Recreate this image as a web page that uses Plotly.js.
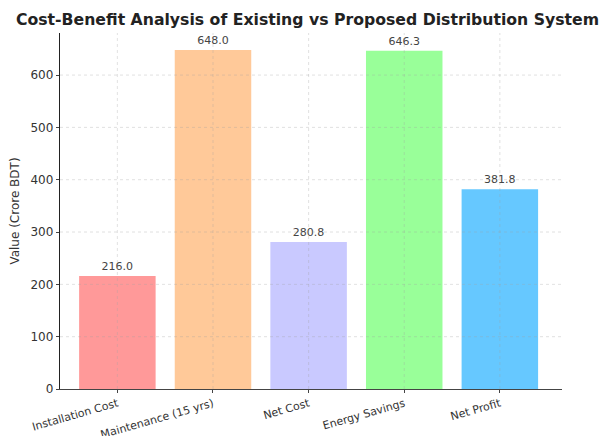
<!DOCTYPE html>
<html>
<head>
<meta charset="utf-8">
<script src="https://cdn.plot.ly/plotly-3.0.1.min.js"></script>
<style>html,body{margin:0;padding:0;background:#fff;}#chart{width:603px;height:436px;}</style>
</head>
<body>
<div id="chart"></div>
<script>
const categories = ["Installation Cost", "Maintenance (15 yrs)", "Net Cost", "Energy Savings", "Net Profit"];
const values = [216.0, 648.0, 280.8, 646.3, 381.8];
const barColors = ["#ff9999", "#ffc999", "#c9c9ff", "#99ff99", "#66c8ff"];
const yTicks = [0, 100, 200, 300, 400, 500, 600];

const idx = categories.map((c, i) => i);
const font = "DejaVu Sans, sans-serif";

const trace = {
  type: "bar",
  x: idx,
  y: values,
  width: 0.8,
  marker: {color: barColors, line: {width: 0}},
  text: values.map(v => v.toFixed(1)),
  textposition: "outside",
  textfont: {family: font, size: 11, color: "#444"},
  cliponaxis: false,
  hoverinfo: "skip"
};

const gridShapes = [];
idx.forEach(i => gridShapes.push({type: "line", xref: "x", yref: "paper", x0: i, x1: i, y0: 0, y1: 1, layer: "above",
  line: {color: "rgba(160,160,160,0.4)", width: 0.8, dash: "dot"}}));
yTicks.slice(1).forEach(t => gridShapes.push({type: "line", xref: "paper", yref: "y", x0: 0, x1: 1, y0: t, y1: t, layer: "above",
  line: {color: "rgba(160,160,160,0.4)", width: 0.8, dash: "dot"}}));

const layout = {
  width: 603, height: 436,
  margin: {l: 60, r: 41, t: 33, b: 47},
  paper_bgcolor: "#fff", plot_bgcolor: "#fff",
  title: {text: "<b>Cost-Benefit Analysis of Existing vs Proposed Distribution System</b>",
    font: {family: font, size: 15.7, color: "#222"}, x: 0.51, xanchor: "center", y: 0.955, yanchor: "middle"},
  showlegend: false,
  bargap: 0.2,
  xaxis: {
    range: [-0.6, 4.65],
    tickmode: "array", tickvals: idx, ticktext: categories,
    tickangle: -16,
    tickfont: {family: font, size: 11, color: "#333"},
    showgrid: false, zeroline: false,
    showline: true, linecolor: "#444", linewidth: 1.2,
    ticks: "outside", ticklen: 3, tickcolor: "#444"
  },
  yaxis: {
    range: [0, 680.4],
    tickmode: "array", tickvals: yTicks,
    tickfont: {family: font, size: 12, color: "#333"},
    title: {text: "Value (Crore BDT)", font: {family: font, size: 12, color: "#333"}, standoff: 8},
    showgrid: false, zeroline: false,
    showline: true, linecolor: "#222", linewidth: 1.2,
    ticks: "outside", ticklen: 3, tickcolor: "#444"
  },
  shapes: gridShapes
};

Plotly.newPlot("chart", [trace], layout, {displayModeBar: false, staticPlot: true});
</script>
</body>
</html>
